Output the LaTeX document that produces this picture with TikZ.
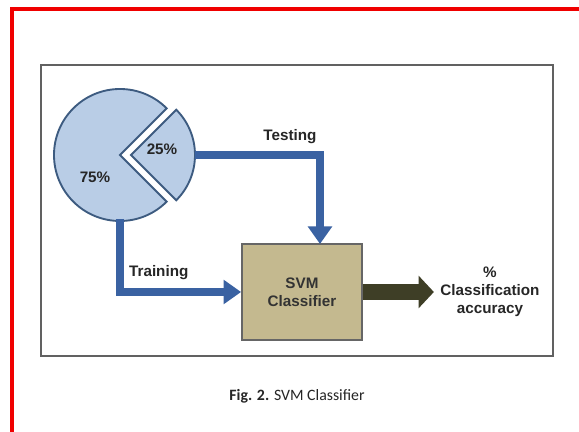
\documentclass[tikz,border=0pt]{standalone}
\usepackage{fontspec}
\usepackage{xcolor}
\usepackage{tikz}
\usetikzlibrary{arrows.meta,positioning}
\newfontfamily\labelfont{Liberation Sans}
\newfontfamily\capfont{Carlito}
\definecolor{frame}{HTML}{F00000}
\definecolor{piefill}{HTML}{B9CDE6}
\definecolor{pieedge}{HTML}{3D5B80}
\definecolor{flowblue}{HTML}{3A62A2}
\definecolor{svmfill}{HTML}{C4B98F}
\definecolor{outarrow}{HTML}{3E3E26}

\begin{document}
\begin{tikzpicture}[
  x=0.03cm, y=-0.03cm,
  slice/.style={draw=pieedge, line width=1.6pt, fill=piefill, line join=miter},
  lbl/.style={font=\labelfont\bfseries\fontsize{13}{15.5}\selectfont, text=black!85, align=center},
  box/.style={draw=black!60, line width=1.5pt, fill=svmfill, minimum width=3.6cm, minimum height=2.88cm, align=center, font=\labelfont\bfseries\fontsize{13}{15.5}\selectfont, text=black!80},
  flow/.style={draw=flowblue, line width=6.5pt, -{Triangle[length=15pt,width=20pt]}},
  fat/.style={draw=outarrow, line width=13.5pt, -{Triangle[length=13pt,width=27pt]}}
]
\useasboundingbox (0,0) rectangle (579,432);
\fill[white] (0,0) rectangle (579,432);
% red frame, cut at the right and bottom
\draw[frame, line width=3.5pt] (12,432) -- (12,9) -- (579,9);
% figure box
\draw[black!62, line width=1.6pt] (41,65) rectangle (553,356);

% pie chart
\coordinate (pie) at (120,155);
\coordinate (cut) at (131,155);
\draw[slice] (pie) -- ++(45:66) arc (45:315:66) -- cycle;
\draw[slice] (cut) -- ++(-45:64) arc (-45:45:64) -- cycle;
\node[lbl] (big) at (95,177) {75\%};
\node[lbl] (small) at (162,149) {25\%};
\coordinate (testout) at (195,155);
\coordinate (trainout) at (120,219);

% classifier and output
\node[box] (svm) at (302,292) {SVM\\Classifier};
\node[lbl] (acc) at (490,292) {\%\\Classification\\accuracy};
\coordinate (testin) at (320,244);

\draw[flow] (testout) -| node[lbl, pos=0.38, above=3pt]{Testing} (testin);
\draw[flow] (trainout) |- node[lbl, pos=0.66, above=4pt]{Training} (svm.west);
\draw[fat] (svm.east) -- ++(71,0) coordinate (outtip);

\node[font=\capfont\fontsize{13.5}{15}\selectfont, text=black!85] (cap) at (297,396) {\textbf{Fig. 2.} SVM Classifier};
\end{tikzpicture}
\end{document}
